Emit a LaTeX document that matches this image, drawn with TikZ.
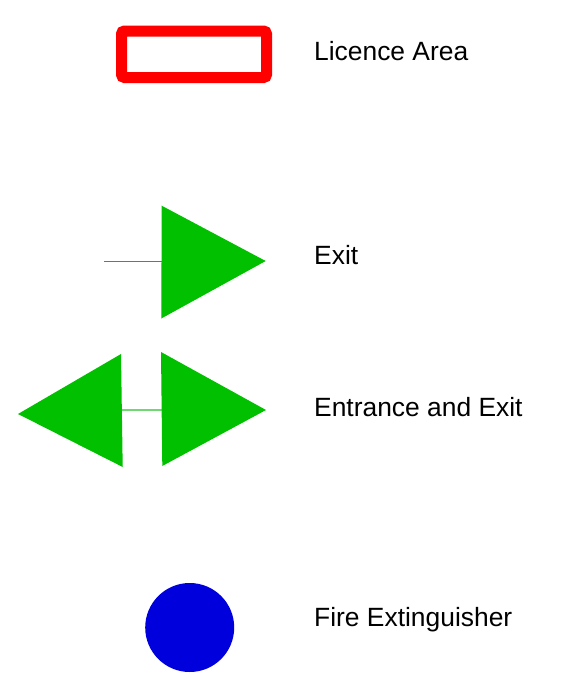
\documentclass[tikz,border=0pt]{standalone}
\usepackage{fontspec}
\setmainfont{Liberation Sans}
\definecolor{licred}{HTML}{FF0000}
\definecolor{exitgreen}{HTML}{00C000}
\definecolor{linkgreen}{HTML}{70D870}
\definecolor{extblue}{HTML}{0000DD}
\begin{document}
\begin{tikzpicture}[x=1pt,y=-1pt,
  label/.style={anchor=base west,inner sep=0pt,font=\fontsize{26.4}{30}\selectfont},
  tri/.style={fill=exitgreen,draw=none}]
\useasboundingbox (0,0) rectangle (573,675);
% Licence area
\draw[licred,line width=11pt,rounded corners=3pt] (266.5,77.5) -- (121.5,77.5) -- (121.5,31) -- (266.5,31) -- cycle;
\node[label] (lic) at (314,60.7) {Licence Area};
% Exit
\coordinate (exitstart) at (104,261);
\coordinate (exitjoin) at (162,261);
\draw[exitgreen,line width=1pt] (exitstart) -- (exitjoin);
\fill[tri] (161.7,205.7) -- (265.7,261) -- (161.3,318.5) -- cycle;
\node[label] (exit) at (314,264) {Exit};
% Entrance and exit
\coordinate (lj) at (122,410);
\coordinate (rj) at (161.5,410);
\draw[linkgreen,line width=1.5pt] (lj) -- (rj);
\fill[tri] (121,354) -- (18,414) -- (122.7,467) -- cycle;
\fill[tri] (161,352) -- (266,410) -- (162.3,466) -- cycle;
\node[label] (ee) at (314,416) {Entrance and Exit};
% Fire extinguisher
\fill[extblue] (189.7,627.5) circle (44.5);
\node[label] (fire) at (314,626) {Fire Extinguisher};
\end{tikzpicture}
\end{document}
